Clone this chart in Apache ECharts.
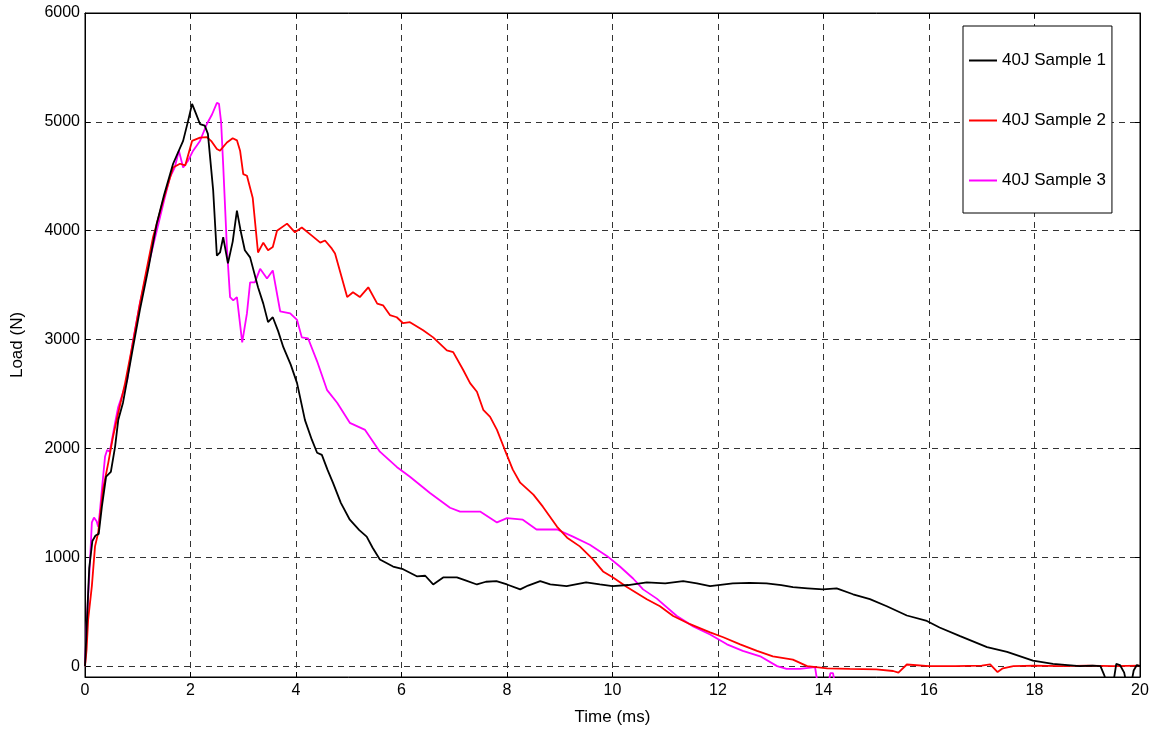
<!DOCTYPE html>
<html>
<head>
<meta charset="utf-8">
<title>Load vs Time</title>
<script src="https://cdn.jsdelivr.net/npm/echarts@6/dist/echarts.min.js"></script>
<style>
  html, body { margin: 0; padding: 0; background: #fff; }
  #chart { width: 1158px; height: 731px; }
</style>
</head>
<body>
<div id="chart"></div>
<script>
// Impact load histories for three 40J samples (time in ms, load in N)
const seriesNames = ['40J Sample 1', '40J Sample 2', '40J Sample 3'];
const seriesColors = ['#000000', '#ff0000', '#ff00ff'];

const s1Time = [0, 0.04, 0.08, 0.14, 0.2, 0.26, 0.32, 0.4, 0.49, 0.57, 0.63, 0.72, 0.8, 0.9, 1.04, 1.2, 1.36, 1.5, 1.67, 1.86, 1.95, 2.03, 2.1, 2.18, 2.27, 2.33, 2.43, 2.5, 2.56, 2.62, 2.71, 2.8, 2.88, 2.95, 3.03, 3.13, 3.28, 3.38, 3.47, 3.56, 3.66, 3.76, 3.9, 4.02, 4.17, 4.3, 4.4, 4.49, 4.6, 4.7, 4.85, 5.02, 5.2, 5.34, 5.45, 5.59, 5.84, 6.03, 6.29, 6.45, 6.6, 6.79, 7.05, 7.2, 7.43, 7.6, 7.8, 8.0, 8.25, 8.4, 8.63, 8.82, 9.13, 9.5, 9.76, 10.0, 10.3, 10.65, 11.0, 11.34, 11.6, 11.85, 12.28, 12.6, 12.92, 13.2, 13.42, 13.7, 13.99, 14.25, 14.56, 14.88, 15.2, 15.58, 15.96, 16.2, 16.59, 17.1, 17.48, 17.97, 18.35, 18.86, 19.1, 19.25, 19.32, 19.4, 19.48, 19.55, 19.62, 19.7, 19.76, 19.82, 19.88, 19.94, 20];
const s1Load = [0, 450, 900, 1150, 1200, 1215, 1465, 1740, 1785, 2015, 2260, 2420, 2630, 2900, 3270, 3650, 4065, 4330, 4615, 4825, 5000, 5165, 5080, 4980, 4965, 4890, 4370, 3770, 3800, 3940, 3700, 3900, 4185, 4000, 3820, 3755, 3480, 3330, 3160, 3205, 3080, 2930, 2770, 2600, 2260, 2080, 1960, 1940, 1800, 1685, 1500, 1345, 1250, 1190, 1090, 980, 915, 890, 825, 830, 750, 815, 815, 790, 750, 775, 780, 750, 705, 740, 780, 750, 735, 770, 750, 735, 745, 770, 760, 780, 760, 735, 760, 765, 760, 745, 725, 715, 705, 715, 660, 615, 550, 465, 415, 355, 275, 175, 130, 50, 20, 0, 5, 0, -80, -200, -200, 20, 10, -60, -200, -200, -40, 10, 0];

const s2Time = [0, 0.03, 0.06, 0.13, 0.19, 0.25, 0.34, 0.44, 0.53, 0.63, 0.76, 0.9, 1.04, 1.15, 1.29, 1.48, 1.67, 1.8, 1.9, 2.03, 2.18, 2.31, 2.4, 2.5, 2.56, 2.69, 2.8, 2.88, 2.94, 3.0, 3.07, 3.18, 3.28, 3.38, 3.47, 3.56, 3.64, 3.83, 3.98, 4.11, 4.3, 4.46, 4.55, 4.68, 4.74, 4.85, 4.97, 5.08, 5.21, 5.37, 5.54, 5.65, 5.78, 5.91, 6.03, 6.16, 6.41, 6.6, 6.86, 6.98, 7.17, 7.3, 7.43, 7.55, 7.68, 7.81, 7.96, 8.11, 8.25, 8.5, 8.68, 8.95, 9.14, 9.38, 9.63, 9.82, 10.01, 10.28, 10.65, 10.9, 11.15, 11.47, 11.85, 12.1, 12.42, 12.74, 13.04, 13.42, 13.69, 14.07, 14.5, 15.0, 15.32, 15.42, 15.58, 16.0, 16.5, 17.0, 17.16, 17.3, 17.4, 17.6, 18.0, 18.5, 19.0, 19.5, 20];
const s2Load = [0, 150, 430, 735, 1100, 1225, 1620, 1865, 2105, 2325, 2600, 2950, 3330, 3600, 3940, 4275, 4580, 4615, 4600, 4825, 4855, 4860, 4820, 4750, 4735, 4810, 4850, 4830, 4735, 4520, 4505, 4300, 3800, 3890, 3820, 3850, 4000, 4065, 3985, 4030, 3955, 3890, 3910, 3835, 3790, 3600, 3390, 3435, 3390, 3480, 3330, 3315, 3225, 3205, 3150, 3160, 3085, 3020, 2900, 2885, 2720, 2600, 2520, 2355, 2290, 2170, 1985, 1805, 1685, 1575, 1465, 1280, 1180, 1100, 980, 870, 815, 725, 615, 550, 460, 385, 310, 265, 200, 140, 90, 60, 0, -20, -25, -30, -45, -60, 15, 0, 0, 5, 15, -55, -20, 0, 5, 0, 5, 0, 5];

const s3Time = [0, 0.03, 0.09, 0.13, 0.17, 0.22, 0.25, 0.28, 0.32, 0.38, 0.42, 0.47, 0.57, 0.63, 0.72, 0.8, 0.9, 1.04, 1.2, 1.36, 1.5, 1.61, 1.7, 1.78, 1.86, 1.95, 2.05, 2.18, 2.31, 2.41, 2.5, 2.54, 2.58, 2.62, 2.69, 2.75, 2.81, 2.88, 2.98, 3.07, 3.13, 3.22, 3.32, 3.45, 3.56, 3.7, 3.89, 4.02, 4.11, 4.23, 4.4, 4.59, 4.78, 5.02, 5.31, 5.59, 5.91, 6.16, 6.54, 6.92, 7.11, 7.49, 7.81, 8.0, 8.3, 8.56, 8.95, 9.25, 9.57, 9.9, 10.14, 10.39, 10.58, 10.84, 11.22, 11.53, 11.85, 12.17, 12.47, 12.8, 13.12, 13.3, 13.55, 13.84, 13.9, 14.08, 14.13, 14.18, 14.23];
const s3Load = [0, 365, 915, 1320, 1365, 1330, 1280, 1410, 1620, 1925, 1985, 1970, 2235, 2380, 2510, 2630, 2960, 3330, 3680, 4000, 4280, 4490, 4580, 4735, 4580, 4640, 4735, 4825, 4980, 5070, 5175, 5165, 5000, 4600, 3845, 3390, 3360, 3390, 2975, 3240, 3525, 3525, 3650, 3560, 3635, 3260, 3240, 3180, 3020, 3010, 2800, 2535, 2420, 2235, 2170, 1970, 1830, 1740, 1590, 1455, 1420, 1420, 1320, 1360, 1345, 1255, 1255, 1190, 1115, 1010, 915, 805, 705, 620, 460, 365, 290, 200, 140, 90, 0, -25, -25, -10, -200, -200, -65, -65, -200];

const xMin = 0, xMax = 20, xStep = 2;
const yMin = -100, yMax = 6000;

const zip = (ts, ls) => ts.map((t, i) => [t, ls[i]]);
const seriesData = [zip(s1Time, s1Load), zip(s2Time, s2Load), zip(s3Time, s3Load)];

const FONT = 'Liberation Sans, Arial, sans-serif';
const gridDash = { color: '#333', width: 1, type: [6, 5] };
const plainNumber = v => String(Math.round(v));

const chart = echarts.init(document.getElementById('chart'), null, { renderer: 'canvas' });

chart.setOption({
  animation: false,
  backgroundColor: '#ffffff',
  textStyle: { fontFamily: FONT },
  grid: {
    left: 85, right: 18, top: 13, bottom: 54,
    show: true, borderColor: '#000', borderWidth: 1, backgroundColor: 'transparent'
  },
  legend: {
    orient: 'vertical',
    left: 963, top: 26,
    padding: [26, 6, 24, 6],
    itemGap: 43,
    icon: 'rect',
    itemWidth: 28, itemHeight: 2,
    backgroundColor: '#fff',
    borderColor: '#000', borderWidth: 1,
    textStyle: { color: '#000', fontSize: 17, fontFamily: FONT },
    data: seriesNames
  },
  xAxis: [{
    type: 'value', min: xMin, max: xMax, interval: xStep,
    name: 'Time (ms)', nameLocation: 'middle', nameGap: 32,
    nameTextStyle: { color: '#000', fontSize: 17, fontFamily: FONT },
    axisLine: { show: true, onZero: false, lineStyle: { color: '#000' } },
    axisTick: { show: true, inside: true, length: 5, lineStyle: { color: '#000' } },
    axisLabel: { color: '#000', fontSize: 16, margin: 6, fontFamily: FONT, formatter: plainNumber },
    splitLine: { show: true, lineStyle: gridDash }
  }, {
    type: 'value', position: 'top', min: xMin, max: xMax, interval: xStep,
    axisLine: { show: true, onZero: false, lineStyle: { color: '#000' } },
    axisTick: { show: true, inside: true, length: 5, lineStyle: { color: '#000' } },
    axisLabel: { show: false },
    splitLine: { show: false }
  }],
  yAxis: [{
    type: 'value', min: yMin, max: yMax, splitNumber: 6,
    name: 'Load (N)', nameLocation: 'middle', nameGap: 59, nameRotate: 90,
    nameTextStyle: { color: '#000', fontSize: 17, fontFamily: FONT },
    axisLine: { show: true, onZero: false, lineStyle: { color: '#000' } },
    axisTick: { show: true, inside: true, length: 5, lineStyle: { color: '#000' } },
    axisLabel: { color: '#000', fontSize: 16, margin: 5, showMinLabel: false, fontFamily: FONT, formatter: plainNumber },
    splitLine: { show: true, lineStyle: gridDash }
  }, {
    type: 'value', position: 'right', min: yMin, max: yMax, splitNumber: 6,
    axisLine: { show: true, onZero: false, lineStyle: { color: '#000' } },
    axisTick: { show: true, inside: true, length: 5, lineStyle: { color: '#000' } },
    axisLabel: { show: false },
    splitLine: { show: false }
  }],
  series: seriesNames.map((name, i) => ({
    name: name,
    type: 'line',
    xAxisIndex: 0, yAxisIndex: 0,
    data: seriesData[i],
    symbol: 'none',
    clip: true,
    color: seriesColors[i],
    lineStyle: { color: seriesColors[i], width: 1.8 },
    z: 3 - i
  }))
});
</script>
</body>
</html>
